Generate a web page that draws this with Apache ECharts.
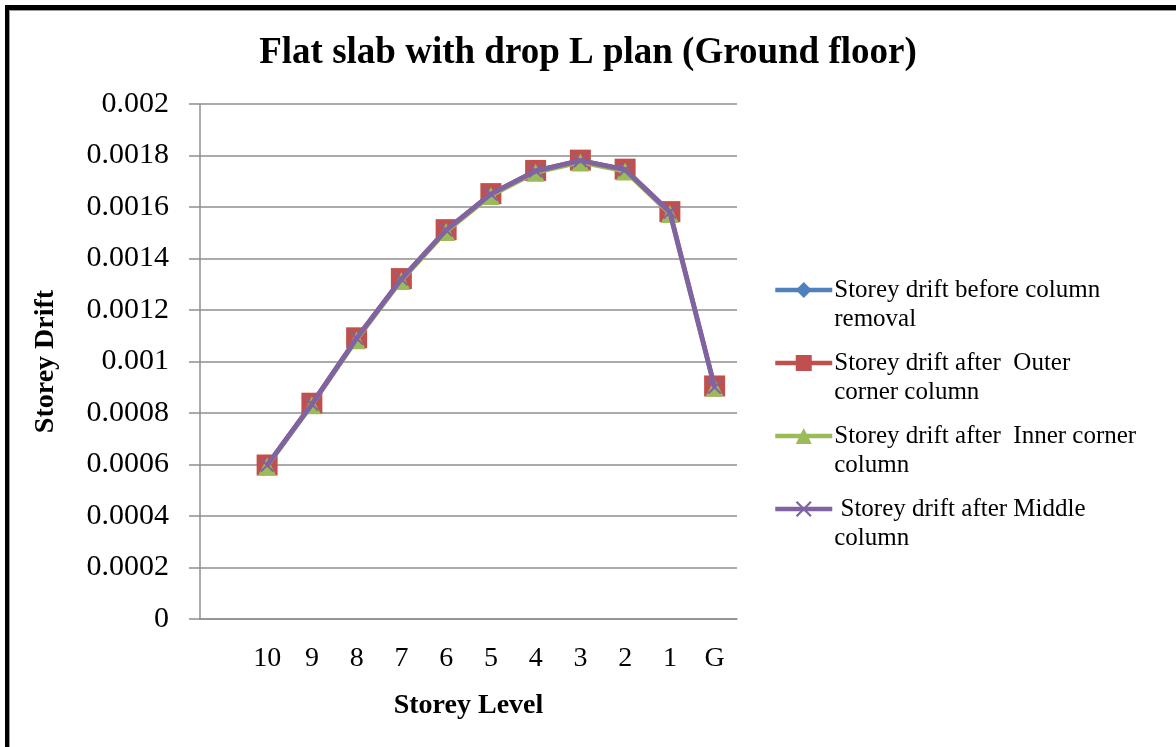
<!DOCTYPE html>
<html>
<head>
<meta charset="utf-8">
<script src="https://cdn.jsdelivr.net/npm/echarts@6/dist/echarts.min.js"></script>
<style>
  html, body { margin: 0; padding: 0; background: #fff; }
  #chart { position: absolute; left: 0; top: 0; width: 1176px; height: 747px; }
  /* chart frame: heavy black edge on the top and left, with a thin grey inner rule */
  #frame {
    position: absolute; left: 5px; top: 5px; width: 1171px; height: 742px;
    border-left: 4px solid #000; border-top: 5px solid #000;
    box-shadow: inset 1px 1px 0 #9a9a9a;
    pointer-events: none; box-sizing: border-box;
  }
</style>
</head>
<body>
<div id="chart"></div>
<div id="frame"></div>
<script>
// Storey levels along the x axis (leading blank slot keeps the first level off the axis)
const storeys = ['', '10', '9', '8', '7', '6', '5', '4', '3', '2', '1', 'G'];

// Storey drift for each removal case
const driftBefore = [null, 0.000597, 0.000835, 0.00109, 0.00132, 0.00151, 0.00165, 0.00174, 0.00178, 0.001745, 0.00158, 0.0009];
const driftOuter  = [null, 0.000598, 0.000838, 0.001092, 0.001322, 0.001512, 0.001652, 0.001742, 0.001782, 0.001747, 0.001582, 0.000905];
const driftInner  = [null, 0.000592, 0.00083, 0.001083, 0.001313, 0.001503, 0.001643, 0.001733, 0.001773, 0.001738, 0.001573, 0.000898];
const driftMiddle = [null, 0.000597, 0.000834, 0.00109, 0.00132, 0.00151, 0.00165, 0.00174, 0.00178, 0.001745, 0.00158, 0.0009];

const seriesNames = [
  'Storey drift before column\nremoval',
  'Storey drift after  Outer\ncorner column',
  'Storey drift after  Inner corner\ncolumn',
  ' Storey drift after Middle\ncolumn'
];

const serif = 'Liberation Serif, Times New Roman, serif';
const gridGrey = '#8f8f8f';
const legendLine = 29.5;
const crossPath = 'path://M0,1 L1,0 L5,4 L9,0 L10,1 L6,5 L10,9 L9,10 L5,6 L1,10 L0,9 L4,5 Z';

function lineSeries(name, data, color, symbol, size, width, z) {
  return {
    name: name,
    type: 'line',
    data: data,
    z: z,
    symbol: symbol,
    symbolSize: size,
    showSymbol: true,
    connectNulls: false,
    itemStyle: { color: color },
    lineStyle: { color: color, width: width },
    emphasis: { disabled: true }
  };
}

const chart = echarts.init(document.getElementById('chart'), null, { renderer: 'canvas' });
chart.setOption({
  animation: false,
  backgroundColor: '#ffffff',
  title: {
    text: 'Flat slab with drop L plan (Ground floor)',
    left: 'center',
    top: 30,
    textStyle: { fontFamily: serif, fontSize: 37, fontWeight: 'bold', color: '#000' }
  },
  grid: { left: 200, right: 439, top: 104, bottom: 128 },
  legend: {
    orient: 'vertical',
    left: 768,
    top: 243,
    itemWidth: 57,
    itemHeight: 20,
    itemGap: 77.5 - 3 * legendLine,
    selectedMode: false,
    data: seriesNames,
    lineStyle: { width: 4.5 },
    // a blank leading row keeps the icon level with the first text row
    formatter: function (name) {
      return '{s| }\n' + name.split('\n').map(function (t) { return '{t|' + t + '}'; }).join('\n');
    },
    textStyle: {
      fontFamily: serif, fontSize: 25, color: '#000',
      rich: {
        s: { fontFamily: serif, fontSize: 25, lineHeight: legendLine },
        t: { fontFamily: serif, fontSize: 25, color: '#000', lineHeight: legendLine, padding: [0, 0, 0, -3] }
      }
    }
  },
  xAxis: {
    type: 'category',
    data: storeys,
    boundaryGap: true,
    name: 'Storey Level',
    nameLocation: 'middle',
    nameGap: 73,
    nameTextStyle: { fontFamily: serif, fontSize: 28, fontWeight: 'bold', color: '#000' },
    axisLine: { show: true, lineStyle: { color: gridGrey, width: 1.5 } },
    axisTick: { show: false },
    axisLabel: { fontFamily: serif, fontSize: 28, color: '#000', margin: 26, interval: 0 },
    splitLine: { show: false }
  },
  yAxis: {
    type: 'value',
    min: 0,
    max: 0.002,
    interval: 0.0002,
    name: 'Storey Drift',
    nameLocation: 'middle',
    nameGap: 140,
    nameRotate: 90,
    nameTextStyle: { fontFamily: serif, fontSize: 28, fontWeight: 'bold', color: '#000' },
    axisLine: { show: true, lineStyle: { color: gridGrey, width: 1.5 } },
    axisTick: { show: true, inside: false, length: 11, lineStyle: { color: gridGrey, width: 1.5 } },
    axisLabel: {
      fontFamily: serif, fontSize: 30, color: '#000', margin: 31,
      formatter: function (v) { return String(+v.toFixed(4)); }
    },
    splitLine: { show: true, lineStyle: { color: gridGrey, width: 1.5 } }
  },
  series: [
    lineSeries(seriesNames[0], driftBefore, '#4F81BD', 'diamond', 12, 4, 2),
    lineSeries(seriesNames[1], driftOuter, '#C0504D', 'rect', 21, 4, 3),
    lineSeries(seriesNames[2], driftInner, '#9BBB59', 'triangle', 18, 4, 4),
    lineSeries(seriesNames[3], driftMiddle, '#8064A2', crossPath, 14, 5, 5)
  ]
});
</script>
</body>
</html>
